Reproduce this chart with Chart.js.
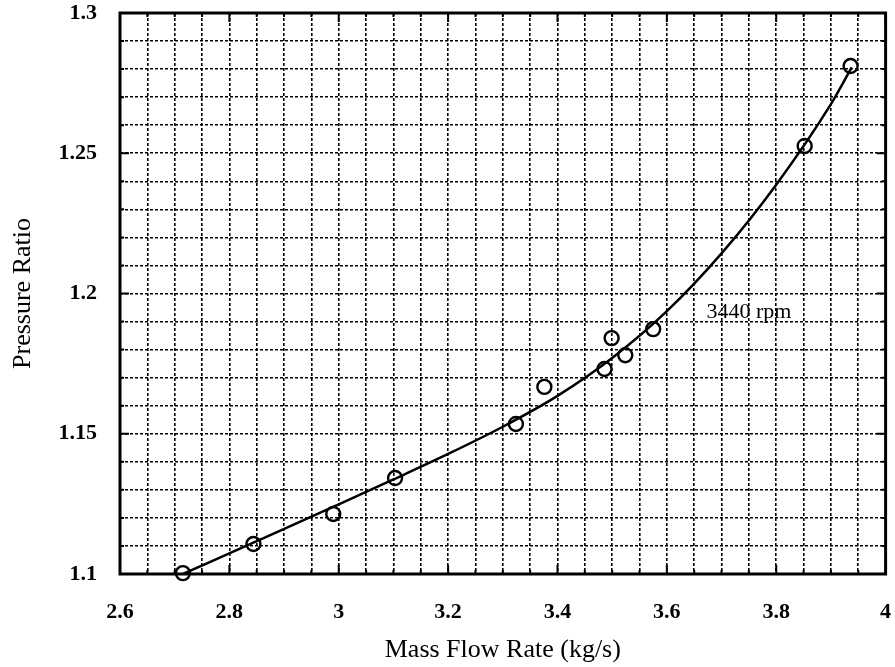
<!DOCTYPE html>
<html>
<head>
<meta charset="utf-8">
<script src="https://cdn.jsdelivr.net/npm/chart.js@4"></script>
<style>
  html, body { margin: 0; padding: 0; background: #fff; }
  #wrap { width: 895px; height: 667px; }
</style>
</head>
<body>
<div id="wrap"><canvas id="chart"></canvas></div>
<script>
// measured points (mass flow, pressure ratio)
const flowPoints = [2.715, 2.844, 2.990, 3.103, 3.324, 3.376, 3.486, 3.499, 3.524, 3.575, 3.852, 3.936];
const ratioPoints = [1.1003, 1.1107, 1.1214, 1.1342, 1.1535, 1.1667, 1.1731, 1.1841, 1.1780, 1.1873, 1.2526, 1.2811];

// fitted curve
const flowCurve = [2.715, 2.85, 3.0, 3.1, 3.2, 3.3, 3.4, 3.5, 3.6, 3.7, 3.8, 3.9, 3.938];
const ratioCurve = [1.1000, 1.1117, 1.1248, 1.1337, 1.1428, 1.1525, 1.1635, 1.1770, 1.1937, 1.2143, 1.2388, 1.2675, 1.2806];

const curveLabel = '3440 rpm';
const labelAt = [3.75, 1.1935];

const serif = "'Liberation Serif', 'Times New Roman', serif";

// frame + inward tick marks on all four sides
const framePlugin = {
    id: 'frame',
    afterDraw(chart) {
        const ctx = chart.ctx;
        const a = chart.chartArea;
        const xs = chart.scales.x, ys = chart.scales.y;
        ctx.save();
        ctx.strokeStyle = '#000';
        ctx.lineWidth = 2;
        ctx.beginPath();
        xs.ticks.forEach(t => {
            const px = xs.getPixelForValue(t.value);
            const len = Math.round(t.value * 100) % 20 === 0 ? 9 : 4;
            ctx.moveTo(px, a.bottom); ctx.lineTo(px, a.bottom - len);
            ctx.moveTo(px, a.top); ctx.lineTo(px, a.top + len);
        });
        ys.ticks.forEach(t => {
            const py = ys.getPixelForValue(t.value);
            const len = Math.round(t.value * 100) % 5 === 0 ? 9 : 4;
            ctx.moveTo(a.left, py); ctx.lineTo(a.left + len, py);
            ctx.moveTo(a.right, py); ctx.lineTo(a.right - len, py);
        });
        ctx.stroke();
        ctx.lineWidth = 3;
        ctx.strokeRect(a.left, a.top, a.right - a.left, a.bottom - a.top);

        ctx.fillStyle = '#000';
        ctx.font = '22px ' + serif;
        ctx.textAlign = 'center';
        ctx.textBaseline = 'middle';
        ctx.fillText(curveLabel, xs.getPixelForValue(labelAt[0]), ys.getPixelForValue(labelAt[1]));
        ctx.restore();
    }
};

const ctx = document.getElementById('chart').getContext('2d');
new Chart(ctx, {
    type: 'scatter',
    data: {
        datasets: [{
            type: 'line',
            data: flowCurve.map((x, i) => ({ x: x, y: ratioCurve[i] })),
            borderColor: '#000',
            borderWidth: 2.5,
            pointRadius: 0,
            fill: false,
            cubicInterpolationMode: 'monotone'
        }, {
            data: flowPoints.map((x, i) => ({ x: x, y: ratioPoints[i] })),
            pointStyle: 'circle',
            pointRadius: 7,
            pointBorderWidth: 2.4,
            borderColor: '#000',
            backgroundColor: 'rgba(0,0,0,0)',
            showLine: false,
            clip: false
        }]
    },
    plugins: [framePlugin],
    options: {
        responsive: true,
        maintainAspectRatio: false,
        animation: false,
        layout: { padding: { top: 13, right: 7, left: 0, bottom: 0 } },
        plugins: { legend: { display: false }, tooltip: { enabled: false } },
        scales: {
            x: {
                type: 'linear',
                min: 2.6,
                max: 4,
                afterFit: s => { s.height = 93; s.paddingLeft = 0; s.paddingRight = 0; },
                grid: { color: '#000', lineWidth: 1.6, drawTicks: false },
                border: { display: false, dash: [3, 2] },
                ticks: {
                    stepSize: 0.05,
                    autoSkip: false,
                    maxTicksLimit: 100,
                    maxRotation: 0,
                    padding: 25,
                    color: '#000',
                    font: { family: serif, size: 22, weight: 'bold' },
                    callback: v => Math.round(v * 100) % 20 === 0 ? String(Math.round(v * 10) / 10) : ''
                },
                title: {
                    display: true,
                    text: 'Mass Flow Rate (kg/s)',
                    color: '#000',
                    font: { family: serif, size: 26 },
                    padding: { top: 0, bottom: 1 }
                }
            },
            y: {
                type: 'linear',
                min: 1.1,
                max: 1.3,
                afterFit: s => { s.width = 120; s.paddingTop = 0; s.paddingBottom = 0; },
                grid: { color: '#000', lineWidth: 1.6, drawTicks: false },
                border: { display: false, dash: [3, 2] },
                ticks: {
                    stepSize: 0.01,
                    autoSkip: false,
                    maxTicksLimit: 100,
                    padding: 23,
                    color: '#000',
                    font: { family: serif, size: 22, weight: 'bold' },
                    callback: v => Math.round(v * 100) % 5 === 0 ? String(Math.round(v * 100) / 100) : ''
                },
                title: {
                    display: true,
                    text: 'Pressure Ratio',
                    color: '#000',
                    font: { family: serif, size: 26 },
                    padding: { top: 8, bottom: 0 }
                }
            }
        }
    }
});
</script>
</body>
</html>
